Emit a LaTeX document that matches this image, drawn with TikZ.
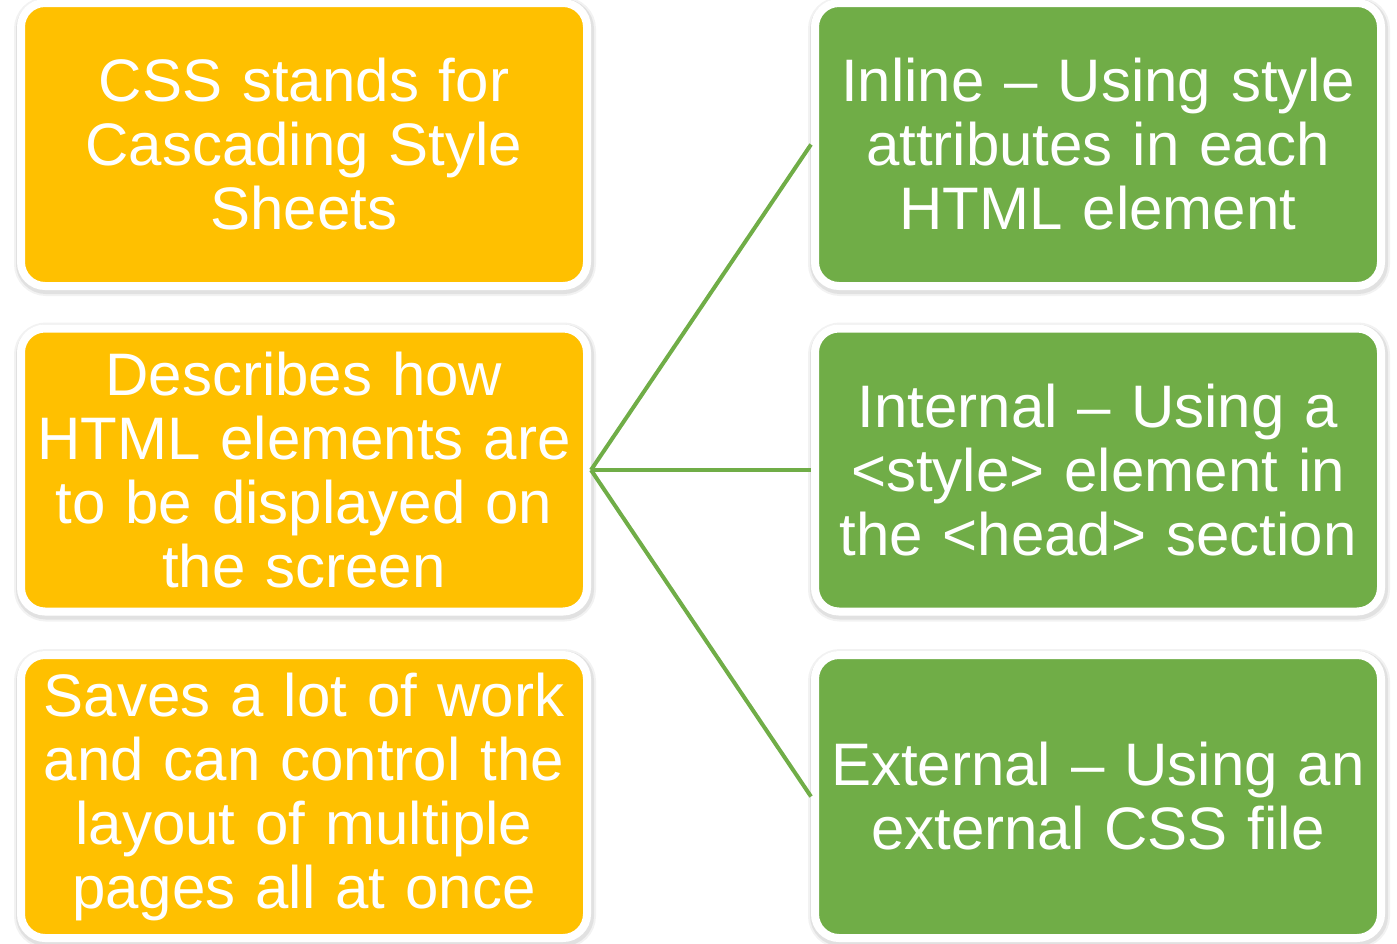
\documentclass[tikz,border=0pt]{standalone}
\usepackage{fontspec}
\setmainfont{Liberation Sans}
\definecolor{boxgold}{HTML}{FFC000}
\definecolor{boxgreen}{HTML}{70AD47}
\begin{document}
\begin{tikzpicture}[x=1pt,y=-1pt,
  card/.style={rectangle, rounded corners=24pt, draw=white, line width=8pt,
    minimum width=566pt, minimum height=283pt, inner sep=0pt,
    text width=556pt, align=center, text=white,
    font=\fontsize{60}{64}\selectfont,
    preaction={draw=black, draw opacity=0.05, line width=16pt,
      transform canvas={xshift=1pt,yshift=-2pt}},
    preaction={draw=black, draw opacity=0.07, line width=12pt,
      transform canvas={xshift=1pt,yshift=-2pt}}},
  goldcard/.style={card, fill=boxgold},
  greencard/.style={card, fill=boxgreen},
  link/.style={draw=boxgreen, line width=4pt}]
\useasboundingbox (0,0) rectangle (1397,943);

\node[goldcard] (css) at (304,144.5) {CSS stands for\\Cascading Style\\Sheets};
\node[goldcard] (desc) at (304,470) {Describes how\\HTML elements are\\to be displayed on\\the screen};
\node[goldcard] (save) at (304,796.5) {Saves a lot of work\\and can control the\\layout of multiple\\pages all at once};

\node[greencard] (inline) at (1098,144.5) {Inline -- Using style\\attributes in each\\HTML element};
\node[greencard] (internal) at (1098,470) {Internal -- Using a\\<style> element in\\the <head> section};
\node[greencard] (external) at (1098,796.5) {External -- Using an\\external CSS file};

\draw[link] (desc.east) -- (inline.west);
\draw[link] (desc.east) -- (internal.west);
\draw[link] (desc.east) -- (external.west);
\end{tikzpicture}
\end{document}
